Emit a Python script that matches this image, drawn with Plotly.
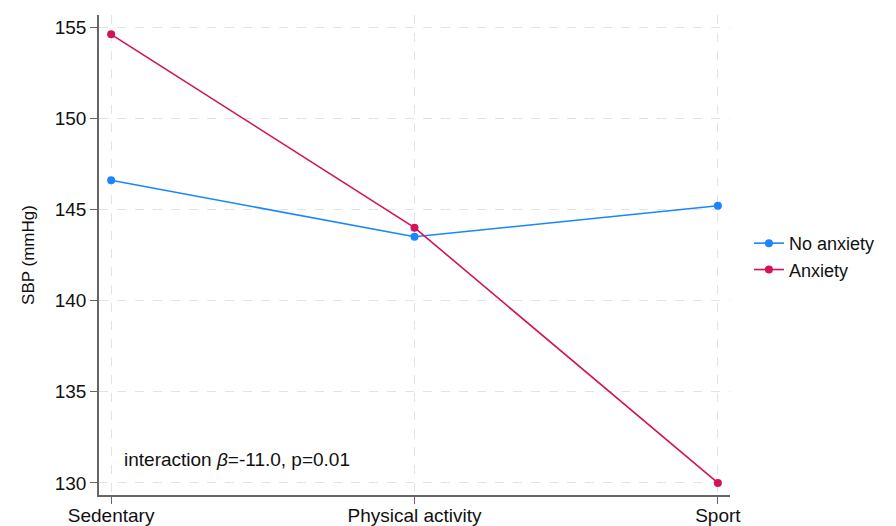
import plotly.graph_objects as go

categories = ["Sedentary", "Physical activity", "Sport"]
no_anxiety = [146.6, 143.5, 145.2]
anxiety = [154.6, 144.0, 130.0]
series_names = ["No anxiety", "Anxiety"]
y_ticks = [130, 135, 140, 145, 150, 155]

x_idx = list(range(len(categories)))

fig = go.Figure()
fig.add_trace(go.Scatter(x=x_idx, y=no_anxiety, mode="lines+markers", name=series_names[0],
                         line=dict(color="#1a85ff", width=1.6), marker=dict(size=8, color="#1a85ff")))
fig.add_trace(go.Scatter(x=x_idx, y=anxiety, mode="lines+markers", name=series_names[1],
                         line=dict(color="#d41159", width=1.6), marker=dict(size=8, color="#d41159")))

fig.update_layout(
    width=888, height=518,
    margin=dict(l=91, r=166, t=7, b=31, autoexpand=False),
    paper_bgcolor="white", plot_bgcolor="white",
    font=dict(family="Liberation Sans, Arial, sans-serif", size=19, color="#111"),
    xaxis=dict(tickmode="array", tickvals=x_idx, ticktext=categories, range=[-0.04, 2.04],
               showline=True, linecolor="#666", linewidth=1.5, ticks="outside", ticklen=7,
               tickcolor="#666", showgrid=True, gridcolor="#e3e3e3", griddash="dash",
               zeroline=False, automargin=False, ticklabelstandoff=-5),
    yaxis=dict(tickmode="array", tickvals=y_ticks, range=[129.34, 155.66],
               title=dict(text="SBP (mmHg)", font=dict(size=17), standoff=16),
               showline=True, linecolor="#666", linewidth=1.5, ticks="outside", ticklen=7,
               tickcolor="#666", showgrid=True, gridcolor="#e3e3e3", griddash="dash",
               zeroline=False, automargin=False),
    legend=dict(x=1.03, y=0.497, xanchor="left", yanchor="middle", font=dict(size=18),
                bgcolor="rgba(0,0,0,0)", tracegroupgap=0, borderwidth=0),
    annotations=[dict(x=0.035, y=131.3, xref="x", yref="y", xanchor="left", yanchor="middle",
                      text="interaction <i>β</i>=-11.0, p=0.01", showarrow=False,
                      font=dict(size=19))],
)

fig.write_html("out.html")
